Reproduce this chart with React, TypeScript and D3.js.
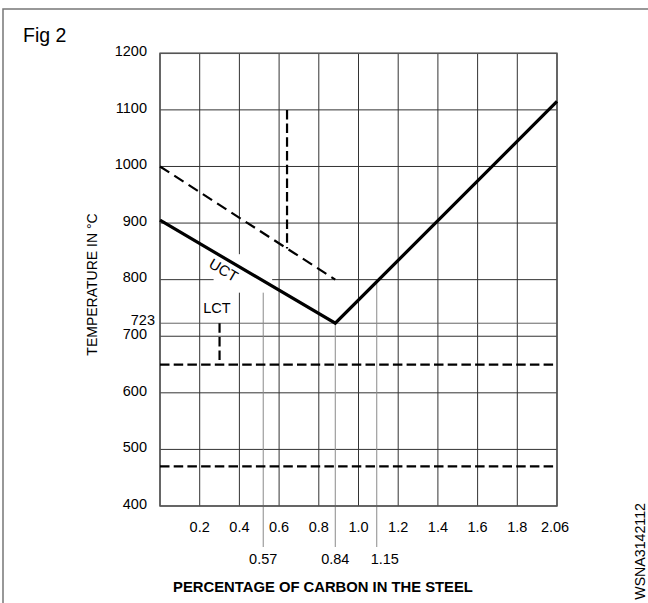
import { useEffect, useRef } from "react";
import * as d3 from "d3";

// grid
const tempTicks = [400, 500, 600, 700, 800, 900, 1000, 1100, 1200];
const carbonGrid = [0, 0.2, 0.4, 0.6, 0.8, 1.0, 1.2, 1.4, 1.6, 1.8, 2.0];
const carbonTickValues = [0.2, 0.4, 0.6, 0.8, 1.0, 1.2, 1.4, 1.6, 1.8, 2.0];
const carbonTickLabels = ["0.2", "0.4", "0.6", "0.8", "1.0", "1.2", "1.4", "1.6", "1.8", "2.06"];

// upper critical temperature (solid V)
const uctCarbon = [0, 0.883, 2.0];
const uctTemp = [905, 723, 1115];

// dashed line above UCT (hypoeutectoid side)
const dashCarbon = [0, 0.883];
const dashTemp = [1000, 800];

// vertical dashed drop on the hypo side
const dropCarbon = 0.64;
const dropTop = 1100;

// lower critical temperature
const lctTemp = 723;
const lctDropCarbon = 0.3;
const lctDropBottom = 650;

// horizontal dashed levels
const dashedLevels = [650, 470];

// marked carbon contents (position on the drawn scale + label)
const markerCarbon = [0.52, 0.883, 1.092];
const markerLabels = ["0.57", "0.84", "1.15"];

const FONT = "'Liberation Sans', Arial, sans-serif";

const IronCarbonChart: React.FC = () => {
  const svgRef = useRef<SVGSVGElement | null>(null);

  useEffect(() => {
    if (!svgRef.current) return;
    const svg = d3.select(svgRef.current);
    svg.selectAll("*").remove();

    const left = 160, right = 557, top = 53.3, bottom = 506;
    const x = d3.scaleLinear().domain([0, 2.0]).range([left, right]);
    const y = d3.scaleLinear().domain([400, 1200]).range([bottom, top]);

    const uct = d3.scaleLinear().domain(uctCarbon).range(uctTemp);
    const dashAt = d3.scaleLinear().domain(dashCarbon).range(dashTemp);

    // page frame
    svg
      .append("path")
      .attr("d", "M3,620 V9 H700")
      .attr("fill", "none")
      .attr("stroke", "#777")
      .attr("stroke-width", 1.5);

    svg
      .append("text")
      .attr("x", 23)
      .attr("y", 41.5)
      .attr("font-family", FONT)
      .attr("font-size", 19.5)
      .text("Fig 2");

    // gridlines
    const g = svg.append("g");
    g.selectAll(".vgrid")
      .data(carbonGrid)
      .enter()
      .append("line")
      .attr("x1", (d) => x(d))
      .attr("x2", (d) => x(d))
      .attr("y1", top)
      .attr("y2", bottom)
      .attr("stroke", "#333")
      .attr("stroke-width", 1);

    g.selectAll(".hgrid")
      .data(tempTicks)
      .enter()
      .append("line")
      .attr("x1", left)
      .attr("x2", right)
      .attr("y1", (d) => y(d))
      .attr("y2", (d) => y(d))
      .attr("stroke", "#333")
      .attr("stroke-width", 1);

    // 723 line
    g.append("line")
      .attr("x1", left)
      .attr("x2", right)
      .attr("y1", y(lctTemp))
      .attr("y2", y(lctTemp))
      .attr("stroke", "#555")
      .attr("stroke-width", 0.9);

    // marker lines, from the curve down below the axis
    markerCarbon.forEach((c, i) => {
      g.append("line")
        .attr("x1", x(c))
        .attr("x2", x(c))
        .attr("y1", y(uct(c)))
        .attr("y2", 547)
        .attr("stroke", "#8a8a8a")
        .attr("stroke-width", 1);
      const dx = markerLabels[i] === "1.15" ? 8 : 0;
      svg
        .append("text")
        .attr("x", x(c) + dx)
        .attr("y", 563.5)
        .attr("text-anchor", "middle")
        .attr("font-family", FONT)
        .attr("font-size", 14.5)
        .text(markerLabels[i]);
    });

    // outer box of plot
    svg
      .append("rect")
      .attr("x", left)
      .attr("y", top)
      .attr("width", right - left)
      .attr("height", bottom - top)
      .attr("fill", "none")
      .attr("stroke", "#555")
      .attr("stroke-width", 1.5);

    // white gap around UCT label
    svg
      .append("rect")
      .attr("x", x(0.27))
      .attr("y", y(845))
      .attr("width", x(0.565) - x(0.27))
      .attr("height", y(777) - y(845))
      .attr("fill", "#fff");

    // dashed lines
    const dashed = (sel: any, dash = "9.5,4.2") =>
      sel.attr("fill", "none").attr("stroke", "#000").attr("stroke-width", 2.2).attr("stroke-dasharray", dash);

    dashedLevels.forEach((t) => {
      dashed(
        svg.append("line").attr("x1", left).attr("x2", right).attr("y1", y(t)).attr("y2", y(t))
      );
    });

    dashed(
      svg
        .append("line")
        .attr("x1", x(dashCarbon[0]))
        .attr("y1", y(dashTemp[0]))
        .attr("x2", x(dashCarbon[1]))
        .attr("y2", y(dashTemp[1])),
      "11,6"
    );

    dashed(
      svg
        .append("line")
        .attr("x1", x(dropCarbon))
        .attr("x2", x(dropCarbon))
        .attr("y1", y(dropTop))
        .attr("y2", y(dashAt(dropCarbon)))
    );

    dashed(
      svg
        .append("line")
        .attr("x1", x(lctDropCarbon))
        .attr("x2", x(lctDropCarbon))
        .attr("y1", y(lctTemp))
        .attr("y2", y(lctDropBottom))
    );

    // UCT solid line
    const line = d3
      .line<number>()
      .x((d) => x(d))
      .y((d, i) => y(uctTemp[i]));
    svg
      .append("path")
      .attr("d", line(uctCarbon))
      .attr("fill", "none")
      .attr("stroke", "#000")
      .attr("stroke-width", 3.2)
      .attr("stroke-linejoin", "miter");

    // curve labels
    const angle = (Math.atan2(y(uctTemp[1]) - y(uctTemp[0]), x(uctCarbon[1]) - x(uctCarbon[0])) * 180) / Math.PI;
    svg
      .append("text")
      .attr("transform", `translate(${x(0.317)},${y(815)}) rotate(${angle})`)
      .attr("text-anchor", "middle")
      .attr("dominant-baseline", "middle")
      .attr("font-family", FONT)
      .attr("font-size", 15)
      .text("UCT");

    svg
      .append("text")
      .attr("x", x(0.287))
      .attr("y", y(747))
      .attr("text-anchor", "middle")
      .attr("dominant-baseline", "middle")
      .attr("font-family", FONT)
      .attr("font-size", 14.5)
      .text("LCT");

    // y tick labels
    svg
      .selectAll(".ytick")
      .data(tempTicks)
      .enter()
      .append("text")
      .attr("x", 147)
      .attr("y", (d) => y(d) - 1)
      .attr("text-anchor", "end")
      .attr("dominant-baseline", "middle")
      .attr("font-family", FONT)
      .attr("font-size", 14.5)
      .text((d) => d);

    svg
      .append("text")
      .attr("x", 155)
      .attr("y", y(lctTemp) - 2)
      .attr("text-anchor", "end")
      .attr("dominant-baseline", "middle")
      .attr("font-family", FONT)
      .attr("font-size", 14.5)
      .text(String(lctTemp));

    // x tick labels
    svg
      .selectAll(".xtick")
      .data(carbonTickValues)
      .enter()
      .append("text")
      .attr("x", (d, i) => x(d) - (i === carbonTickValues.length - 1 ? 2 : 0))
      .attr("y", 531.5)
      .attr("text-anchor", "middle")
      .attr("font-family", FONT)
      .attr("font-size", 14.5)
      .text((d, i) => carbonTickLabels[i]);

    // axis titles
    svg
      .append("text")
      .attr("transform", `translate(97,${284.5}) rotate(-90)`)
      .attr("text-anchor", "middle")
      .attr("font-family", FONT)
      .attr("font-size", 14)
      .text("TEMPERATURE IN °C");

    svg
      .append("text")
      .attr("x", 323)
      .attr("y", 592)
      .attr("text-anchor", "middle")
      .attr("font-family", FONT)
      .attr("font-size", 14.8)
      .attr("font-weight", "bold")
      .text("PERCENTAGE OF CARBON IN THE STEEL");

    svg
      .append("text")
      .attr("transform", "translate(644.5,503) rotate(-90)")
      .attr("text-anchor", "end")
      .attr("font-family", FONT)
      .attr("font-size", 14.2)
      .text("WSNA3142112");
  }, []);

  return (
    <svg
      ref={svgRef}
      width={648}
      height={603}
      style={{ position: "absolute", left: 0, top: 0, background: "#fff" }}
    ></svg>
  );
};

export default function App() {
  return <IronCarbonChart />;
}
